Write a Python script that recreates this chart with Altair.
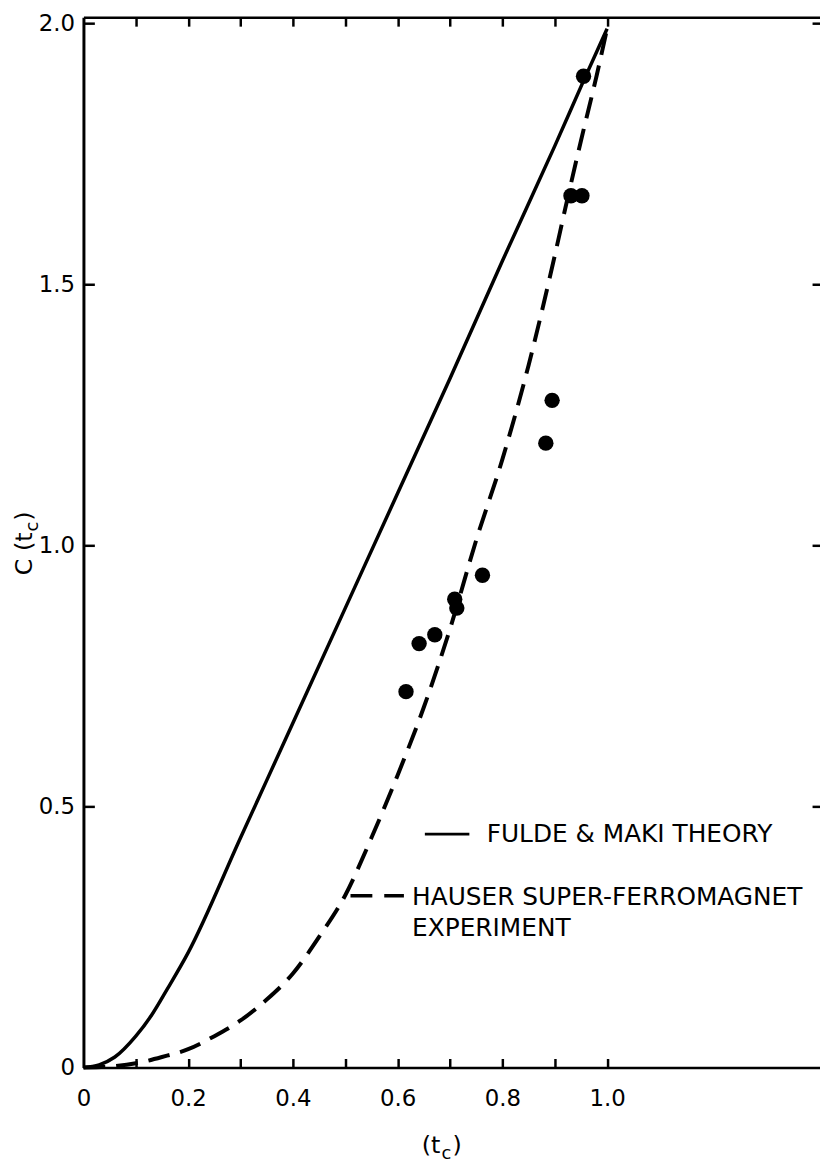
import altair as alt
import pandas as pd

FONT = "DejaVu Sans"

# Fulde & Maki theory (solid curve)
theory_t = [0.0, 0.03, 0.06, 0.10, 0.13, 0.16, 0.20, 0.30, 0.40, 0.50, 0.60, 0.70, 0.80, 0.90, 0.955, 1.0]
theory_c = [0.0, 0.005, 0.02, 0.06, 0.10, 0.15, 0.22, 0.44, 0.66, 0.88, 1.10, 1.32, 1.545, 1.765, 1.89, 1.99]

# Hauser super-ferromagnet experiment (dashed curve)
exp_t = [0.0, 0.05, 0.10, 0.15, 0.20, 0.25, 0.30, 0.35, 0.40, 0.45, 0.50, 0.55, 0.60,
         0.65, 0.70, 0.75, 0.80, 0.85, 0.90, 0.92, 0.95, 0.98, 1.0]
exp_c = [0.0, 0.002, 0.008, 0.02, 0.035, 0.06, 0.09, 0.13, 0.18, 0.25, 0.33, 0.44, 0.56,
         0.69, 0.84, 1.01, 1.165, 1.345, 1.555, 1.645, 1.775, 1.90, 1.99]

# measured points
pts_t = [0.616, 0.641, 0.671, 0.709, 0.713, 0.762, 0.883, 0.895, 0.931, 0.952, 0.955]
pts_c = [0.72, 0.812, 0.829, 0.897, 0.88, 0.943, 1.196, 1.278, 1.67, 1.67, 1.899]

# axis tick values / labels
x_label_vals = [0, 0.2, 0.4, 0.6, 0.8, 1.0]
x_tick_vals = [0.1, 0.2, 0.3, 0.4, 0.5, 0.6, 0.7, 0.8, 0.9, 1.0]
y_label_vals = [0, 0.5, 1.0, 1.5, 2.0]
y_tick_vals = [0.5, 1.0, 1.5, 2.0]

# legend texts
legend_labels = ["FULDE & MAKI THEORY", "HAUSER SUPER-FERROMAGNET", "EXPERIMENT"]
legend_text_x = [0.770, 0.6275, 0.6275]
legend_text_y = [0.447, 0.327, 0.268]
legend_line_style = ["solid", "dashed"]
legend_line_x = [0.652, 0.510]
legend_line_x2 = [0.737, 0.612]
legend_line_y = [0.447, 0.329]

W, H = 742, 1058
xs = alt.Scale(domain=[0, 1.4066], nice=False, zero=False)
ys = alt.Scale(domain=[0, 2.012], nice=False, zero=False)
label_expr = "datum.value == 0 ? '0' : format(datum.value, '.1f')"

theory = pd.DataFrame({"t": theory_t, "c": theory_c})
exper = pd.DataFrame({"t": exp_t, "c": exp_c})
pts = pd.DataFrame({"t": pts_t, "c": pts_c})
leg_txt = pd.DataFrame({"label": legend_labels, "x": legend_text_x, "y": legend_text_y})
leg_line = pd.DataFrame({"style": legend_line_style, "x": legend_line_x, "x2": legend_line_x2, "y": legend_line_y})

# Layer A: solid theory curve, carries the labelled bottom and left axes
layer_a = alt.Chart(theory).mark_line(color="black", strokeWidth=3.5, interpolate="monotone").encode(
    x=alt.X("t:Q", scale=xs, axis=alt.Axis(
        orient="bottom", values=x_label_vals, labelExpr=label_expr, ticks=False, tickSize=0,
        domain=True, domainColor="black", domainWidth=2.5, labelFont=FONT, labelFontSize=23,
        labelColor="black", labelPadding=20, labelFlush=False, labelOverlap=False, grid=False, title="")),
    y=alt.Y("c:Q", scale=ys, axis=alt.Axis(
        orient="left", values=y_label_vals, labelExpr=label_expr, ticks=False, tickSize=0,
        domain=True, domainColor="black", domainWidth=3, labelFont=FONT, labelFontSize=23,
        labelColor="black", labelPadding=9, labelFlush=False, labelOverlap=False, grid=False, title="")),
)

# Layer B: dashed experiment curve, carries inward ticks on bottom and left edges
layer_b = alt.Chart(exper).mark_line(color="black", strokeWidth=4, strokeDash=[22, 11], interpolate="monotone").encode(
    x=alt.X("t:Q", scale=xs, axis=alt.Axis(
        orient="top", offset=-H, values=x_tick_vals, labels=False, domain=False, ticks=True,
        tickSize=9, tickWidth=2.5, tickColor="black", grid=False, title="")),
    y=alt.Y("c:Q", scale=ys, axis=alt.Axis(
        orient="right", offset=-W, values=y_tick_vals, labels=False, domain=False, ticks=True,
        tickSize=11, tickWidth=2.5, tickColor="black", grid=False, title="")),
)

# Layer C: data points, carries the top frame line + inward ticks on top and right edges
layer_c = alt.Chart(pts).mark_circle(color="black", size=240, opacity=1).encode(
    x=alt.X("t:Q", scale=xs, axis=alt.Axis(
        orient="bottom", offset=-H, values=x_tick_vals, labels=False, domain=True,
        domainColor="black", domainWidth=2.5, ticks=True, tickSize=9, tickWidth=2.5,
        tickColor="black", grid=False, title="")),
    y=alt.Y("c:Q", scale=ys, axis=alt.Axis(
        orient="left", offset=-W, values=y_tick_vals, labels=False, domain=False, ticks=True,
        tickSize=8, tickWidth=2.5, tickColor="black", grid=False, title="")),
)

# legend lines
leg_solid = alt.Chart(leg_line).transform_filter("datum.style == 'solid'").mark_rule(
    color="black", strokeWidth=3).encode(
    x=alt.X("x:Q", scale=xs, axis=None), x2="x2:Q", y=alt.Y("y:Q", scale=ys, axis=None))
leg_dash = alt.Chart(leg_line).transform_filter("datum.style == 'dashed'").mark_rule(
    color="black", strokeWidth=3.5, strokeDash=[22, 12]).encode(
    x=alt.X("x:Q", scale=xs, axis=None), x2="x2:Q", y=alt.Y("y:Q", scale=ys, axis=None))
leg_text = alt.Chart(leg_txt).mark_text(
    font=FONT, fontSize=25, align="left", baseline="middle", color="black").encode(
    x=alt.X("x:Q", scale=xs, axis=None), y=alt.Y("y:Q", scale=ys, axis=None), text="label:N")

# axis titles with subscripts
xt = pd.DataFrame({"x": [0.646], "y": [-0.1636]})
yt = pd.DataFrame({"x": [-0.0986], "y": [0.943]})


def piece(df, txt, size, dx, dy, angle=0):
    kw = dict(font=FONT, fontSize=size, align="left", baseline="alphabetic", color="black",
              dx=dx, dy=dy, text=txt)
    if angle:
        kw["angle"] = angle
    return alt.Chart(df).mark_text(**kw).encode(
        x=alt.X("x:Q", scale=xs, axis=None), y=alt.Y("y:Q", scale=ys, axis=None))


x_title = [piece(xt, "(t", 24, 0, 0), piece(xt, "c", 18, 20, 6), piece(xt, ")", 24, 31, 0)]
y_title = [piece(yt, "C (t", 24, 0, 0, 270), piece(yt, "c", 18, 44, 6, 270), piece(yt, ")", 24, 55, 0, 270)]

chart = alt.layer(
    layer_a, layer_b, layer_c, leg_solid, leg_dash, leg_text, *x_title, *y_title
).resolve_axis(x="independent", y="independent").properties(
    width=W, height=H,
    padding={"left": 76, "top": 5, "right": 0, "bottom": 97},
    autosize=alt.AutoSizeParams(type="none"),
    background="white",
).configure_view(strokeWidth=0)

chart.save("out.html", embed_options={"renderer": "svg", "actions": False})
